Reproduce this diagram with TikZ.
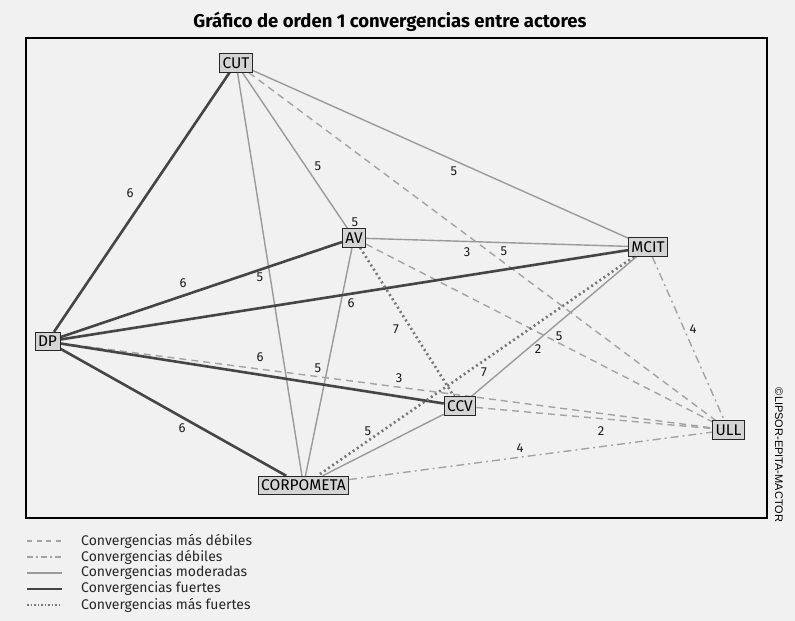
\documentclass[tikz,border=0pt]{standalone}
\usepackage{fontspec}
\setmainfont{Fira Sans}
\newfontfamily\copyfont{Liberation Sans}
\pgfdeclarelayer{edges}
\pgfsetlayers{edges,main}
\definecolor{bgc}{HTML}{F1F1F1}
\definecolor{boxc}{HTML}{D4D4D4}
\definecolor{strongc}{HTML}{454545}
\definecolor{modc}{HTML}{9A9A9A}
\definecolor{weakc}{HTML}{A3A3A3}
\definecolor{dotc}{HTML}{787878}
\tikzset{
  actor/.style={draw=black!85, fill=boxc, line width=0.9pt, inner xsep=3pt, inner ysep=0pt,
    minimum height=18.5pt, font=\fontsize{15.5}{15.5}\selectfont},
  lbl/.style={inner sep=0pt, font=\fontsize{13}{13}\selectfont, text=black!90},
  weakest/.style={draw=weakc, line width=1.4pt, dash pattern=on 7pt off 5pt},
  weak/.style={draw=weakc, line width=1.4pt, dash pattern=on 8pt off 4pt on 2pt off 4pt},
  moderate/.style={draw=modc, line width=1.4pt},
  strong/.style={draw=strongc, line width=2.6pt},
  strongest/.style={draw=dotc, line width=2.6pt, dash pattern=on 2pt off 3pt},
  legtxt/.style={anchor=west, inner sep=0pt, font=\fontsize{14}{14}\selectfont, text=black!85}
}
\begin{document}
\begin{tikzpicture}[x=1pt,y=-1pt]
\useasboundingbox (0,0) rectangle (795,621);
\begin{pgfonlayer}{edges}
\fill[bgc] (0,0) rectangle (795,621);
\draw[black, line width=1.5pt] (26,38) rectangle (767,518);
\end{pgfonlayer}
\node (title) at (390,22) {\fontsize{18.5}{18.5}\selectfont\bfseries Gráfico de orden 1 convergencias entre actores};

\node[actor] (CUT) at (236,63) {CUT};
\node[actor] (AV) at (354,238) {AV};
\node[actor] (MCIT) at (648,247) {MCIT};
\node[actor] (DP) at (47.5,341.5) {DP};
\node[actor] (CCV) at (460,406) {CCV};
\node[actor] (ULL) at (728.5,430) {ULL};
\node[actor] (CORP) at (303.5,485.5) {CORPOMETA};

\begin{pgfonlayer}{edges}
\draw[weakest] (DP) -- (ULL);
\draw[weakest] (CUT) -- (ULL);
\draw[weakest] (AV) -- (ULL);
\draw[weakest] (CCV) -- (ULL);
\draw[weak] (MCIT) -- (ULL);
\draw[weak] (CORP) -- (ULL);
\draw[moderate] (CUT) -- (AV);
\draw[moderate] (CUT) -- (MCIT);
\draw[moderate] (CUT) -- (CORP);
\draw[moderate] (AV) -- (MCIT);
\draw[moderate] (AV) -- (CORP);
\draw[moderate] (MCIT) -- (CCV);
\draw[moderate] (CCV) -- (CORP);
\draw[strong] (DP) -- (CUT);
\draw[strong] (DP) -- (AV);
\draw[strong] (DP) -- (MCIT);
\draw[strong] (DP) -- (CCV);
\draw[strong] (DP) -- (CORP);
\draw[strongest] (AV) -- (CCV);
\draw[strongest] (MCIT) -- (CORP);
\end{pgfonlayer}

\node[lbl] (l1) at (130,193) {6};
\node[lbl] (l2) at (183,283) {6};
\node[lbl] (l3) at (351,303) {6};
\node[lbl] (l4) at (260,357) {6};
\node[lbl] (l5) at (182,428) {6};
\node[lbl] (l6) at (318,166) {5};
\node[lbl] (l7) at (454,171) {5};
\node[lbl] (l8) at (355,222) {5};
\node[lbl] (l9) at (260,277) {5};
\node[lbl] (l10) at (467,252) {3};
\node[lbl] (l11) at (504,251) {5};
\node[lbl] (l12) at (318,368) {5};
\node[lbl] (l13) at (396,329) {7};
\node[lbl] (l14) at (538,349) {2};
\node[lbl] (l15) at (559,336) {5};
\node[lbl] (l16) at (484,372) {7};
\node[lbl] (l17) at (693,329) {4};
\node[lbl] (l18) at (399,378) {3};
\node[lbl] (l19) at (368,431) {5};
\node[lbl] (l20) at (601,431) {2};
\node[lbl] (l21) at (520,448) {4};

\node[rotate=-90, inner sep=0pt, font=\copyfont\fontsize{11}{11}\selectfont] (copy) at (779,455) {©LIPSOR-EPITA-MACTOR};

% legend
\coordinate (a1) at (27,541); \coordinate (b1) at (62,541);
\coordinate (a2) at (27,557); \coordinate (b2) at (62,557);
\coordinate (a3) at (27,573); \coordinate (b3) at (62,573);
\coordinate (a4) at (27,589); \coordinate (b4) at (62,589);
\coordinate (a5) at (27,605); \coordinate (b5) at (62,605);
\draw[draw=weakc, line width=1.2pt, dash pattern=on 5pt off 4.5pt] (a1) -- (b1);
\draw[draw=weakc, line width=1.2pt, dash pattern=on 6pt off 3pt on 2pt off 3pt] (a2) -- (b2);
\draw[moderate, line width=1.2pt] (a3) -- (b3);
\draw[strong, line width=2.4pt] (a4) -- (b4);
\draw[draw=dotc, line width=1.8pt, dash pattern=on 1.6pt off 1.9pt] (a5) -- (b5);
\node[legtxt] (t1) at (81,541) {Convergencias más débiles};
\node[legtxt] (t2) at (81,557) {Convergencias débiles};
\node[legtxt] (t3) at (81,573) {Convergencias moderadas};
\node[legtxt] (t4) at (81,589) {Convergencias fuertes};
\node[legtxt] (t5) at (81,605) {Convergencias más fuertes};
\end{tikzpicture}
\end{document}
